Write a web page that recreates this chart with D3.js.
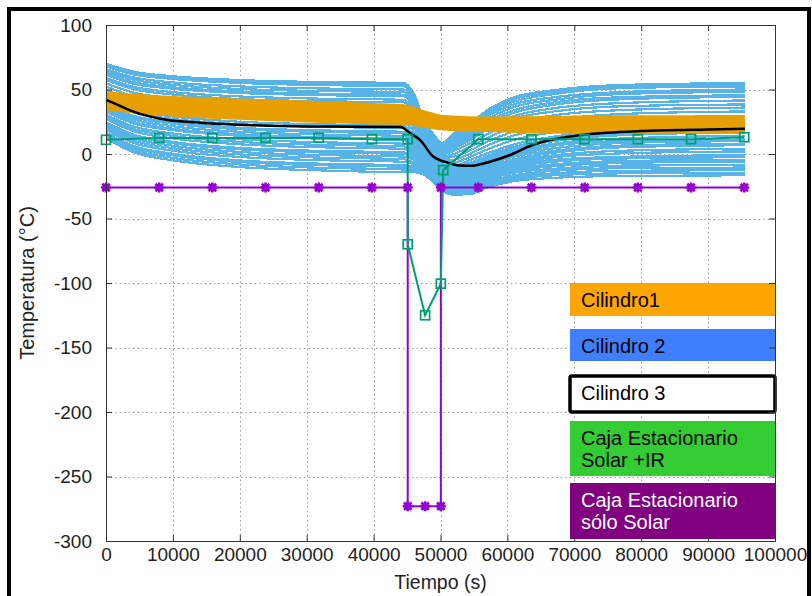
<!DOCTYPE html>
<html>
<head>
<meta charset="utf-8">
<script src="https://cdn.jsdelivr.net/npm/d3@7"></script>
<style>
  html, body { margin: 0; padding: 0; background: #fff; }
  svg { display: block; font-family: "Liberation Sans", Arial, Helvetica, sans-serif; }
</style>
</head>
<body>
<svg id="chart" width="812" height="596"></svg>
<script>
// ---------- axis ticks ----------
const xTicks = [0, 10000, 20000, 30000, 40000, 50000, 60000, 70000, 80000, 90000, 100000];
const yTicks = [-300, -250, -200, -150, -100, -50, 0, 50, 100];

// ---------- Cilindro1 (band of nodes) ----------
const cil1Times = [0, 5000, 10000, 20000, 30000, 40000, 44500, 47500, 50000, 53000, 57000, 65000, 75000, 95500];
const cil1Nodes = [
  [46.6, 44.6, 43.1, 41.1, 39.6, 37.6, 36.6, 32.1, 28.6, 27.6, 27.1, 27.6, 28.1, 28.1],
  [43.9, 41.7, 40.1, 37.9, 36.3, 34.4, 33.6, 29.7, 26.6, 25.6, 25.1, 25.2, 25.4, 25.4],
  [41.3, 38.8, 37.0, 34.8, 33.0, 31.3, 30.5, 27.3, 24.5, 23.5, 23.0, 22.8, 22.8, 22.8],
  [38.6, 35.8, 34.0, 31.6, 29.7, 28.1, 27.5, 24.8, 22.5, 21.5, 21.0, 20.3, 20.1, 20.1],
  [35.9, 32.9, 30.9, 28.4, 26.4, 24.9, 24.4, 22.4, 20.4, 19.4, 18.9, 17.9, 17.4, 17.4]
];

// ---------- Cilindro 2 (family of nodes) ----------
const cil2Times = [0, 4000, 10000, 20000, 32000, 44500,
                   46000, 47500, 49000, 50200, 52000, 54500, 57000, 61000, 67000, 77000, 95500];
const cil2Nodes = [
  [70.0, 64.0, 60.3, 57.3, 55.8, 55.0,  47.0, 27.0, 15.0, 8.5, 16.0, 24.0, 34.0, 44.0, 49.5, 53.5, 55.0],
  [68.7, 62.6, 58.8, 55.8, 54.3, 53.5,  45.5, 26.0, 14.0, 7.5, 15.0, 22.5, 32.5, 42.5, 48.0, 52.0, 53.5],
  [67.9, 61.8, 58.2, 55.1, 53.4, 52.6,  44.0, 25.0, 13.5, 7.0, 14.0, 21.5, 31.0, 40.5, 46.5, 51.0, 52.4],
  [65.8, 59.5, 55.5, 52.4, 50.8, 50.0,  42.0, 23.5, 12.5, 6.0, 12.5, 19.5, 29.0, 38.5, 44.0, 48.0, 50.0],
  [64.1, 57.7, 53.6, 50.4, 48.8, 48.0,  40.0, 22.5, 11.0, 5.0, 10.5, 18.0, 27.0, 36.5, 42.0, 46.5, 48.2],
  [62.4, 55.8, 51.7, 48.5, 46.8, 46.0,  38.0, 21.0, 10.0, 4.0, 9.0, 16.0, 25.0, 34.0, 40.0, 44.0, 45.5],
  [61.4, 54.6, 50.6, 47.3, 45.6, 44.8,  36.0, 19.5, 9.0, 3.0, 7.5, 14.5, 23.0, 32.0, 38.2, 42.4, 44.3],
  [59.0, 52.2, 48.0, 44.6, 42.9, 42.0,  34.0, 18.5, 8.0, 2.0, 6.0, 12.5, 21.0, 29.5, 35.5, 39.5, 41.5],
  [57.4, 50.4, 46.1, 42.6, 40.9, 40.0,  32.0, 17.0, 7.0, 1.0, 4.5, 11.0, 19.0, 27.5, 33.0, 37.0, 38.4],
  [54.8, 47.7, 43.2, 39.7, 37.9, 37.0,  29.5, 15.0, 5.0, -0.5, 2.5, 8.5, 15.5, 24.0, 30.0, 34.0, 36.0],
  [52.3, 45.0, 40.4, 36.7, 34.9, 34.0,  26.5, 13.0, 3.5, -2.0, 0.0, 6.0, 12.5, 21.0, 26.5, 31.0, 33.0],
  [49.8, 42.3, 37.6, 33.8, 31.9, 31.0,  23.5, 11.0, 2.0, -3.5, -2.0, 3.0, 9.5, 17.5, 23.5, 27.5, 29.5],
  [47.3, 39.6, 34.8, 30.9, 29.0, 28.0,  20.5, 9.0, 0.0, -5.0, -4.5, 0.5, 6.5, 14.5, 20.0, 24.5, 26.5],
  [44.8, 36.9, 31.9, 28.0, 26.0, 25.0,  17.5, 7.0, -1.5, -6.5, -6.5, -2.0, 3.5, 11.0, 17.0, 21.5, 23.0],
  [42.2, 34.1, 29.1, 25.0, 23.0, 22.0,  14.5, 5.0, -3.0, -8.0, -9.0, -4.5, 0.5, 7.5, 13.5, 18.0, 20.0],
  [40.6, 32.4, 27.2, 23.1, 21.0, 20.0,  12.5, 3.5, -4.5, -9.5, -10.5, -6.5, -1.5, 5.5, 11.5, 16.0, 18.0],
  [38.4, 29.8, 24.6, 20.3, 18.3, 17.2,  11.0, 2.5, -5.5, -10.5, -11.5, -8.0, -3.0, 4.0, 10.0, 14.6, 16.8],
  [37.2, 28.7, 23.4, 19.2, 17.1, 16.0,  9.5, 1.5, -6.5, -11.5, -13.0, -9.0, -4.0, 2.5, 8.0, 12.0, 14.0],
  [35.5, 26.9, 21.5, 17.2, 15.1, 14.0,  8.0, 0.0, -7.5, -12.5, -14.0, -10.5, -5.5, 1.0, 6.5, 10.0, 11.2],
  [33.8, 25.1, 19.6, 15.3, 13.1, 12.0,  6.5, -1.0, -8.5, -13.5, -15.5, -12.0, -7.0, -0.5, 4.5, 8.5, 10.0],
  [32.7, 23.9, 18.5, 14.1, 11.9, 10.8,  4.5, -2.0, -9.5, -15.0, -16.5, -13.5, -8.5, -2.0, 2.5, 6.5, 8.0],
  [30.5, 21.5, 15.9, 11.4, 9.1, 8.0,  3.0, -3.0, -10.5, -16.0, -18.0, -15.0, -10.0, -4.0, 1.0, 5.2, 6.8],
  [28.8, 19.7, 14.0, 9.4, 7.1, 6.0,  1.5, -4.5, -11.5, -17.0, -19.0, -16.5, -11.5, -5.5, -1.0, 2.5, 4.0],
  [27.1, 17.9, 12.1, 7.5, 5.2, 4.0,  0.0, -5.5, -12.5, -18.0, -20.5, -18.0, -13.0, -7.0, -2.5, 0.5, 2.0],
  [24.8, 15.3, 9.4, 4.7, 2.4, 1.2,  -1.5, -6.5, -13.5, -19.0, -21.5, -19.5, -14.5, -8.5, -4.5, -2.2, -0.9],
  [23.8, 14.3, 8.3, 3.6, 1.2, 0.0,  -3.0, -8.0, -14.5, -20.5, -23.0, -21.0, -16.0, -10.0, -6.0, -3.5, -2.5],
  [22.1, 12.5, 6.4, 1.6, -0.8, -2.0,  -4.5, -9.0, -15.5, -21.5, -24.0, -22.5, -17.5, -11.5, -8.0, -5.5, -4.5],
  [20.4, 10.6, 4.5, -0.3, -2.8, -4.0,  -6.5, -10.0, -17.0, -22.5, -25.5, -23.5, -18.5, -13.0, -9.5, -7.0, -5.8],
  [18.7, 8.8, 2.6, -2.3, -4.8, -6.0,  -8.0, -11.5, -18.0, -23.5, -26.5, -25.0, -20.0, -14.5, -11.5, -9.0, -8.5],
  [16.5, 6.4, 0.2, -5.0, -7.5, -8.8,  -9.5, -12.5, -19.0, -24.5, -28.0, -26.5, -21.5, -16.5, -13.0, -11.0, -10.5],
  [15.4, 5.2, -1.1, -6.2, -8.7, -10.0,  -11.0, -13.5, -20.0, -26.0, -29.0, -28.0, -23.0, -18.0, -15.0, -13.0, -12.5],
  [13.7, 3.4, -3.0, -8.1, -10.7, -12.0,  -12.5, -15.0, -21.0, -27.0, -30.5, -29.5, -24.5, -19.5, -16.5, -15.0, -14.5],
  [12.0, 1.6, -4.9, -10.1, -12.7, -14.0,  -14.0, -16.0, -22.0, -28.0, -31.5, -31.0, -26.0, -21.0, -18.5, -17.0, -16.5]
];

// ---------- Cilindro 3 ----------
const cil3Times = [0, 2000, 4000, 9000, 14000, 22000, 32000, 44000, 45500, 47000, 48900, 50000,
                   51400, 52900, 54400, 55900, 57400, 60400, 63400, 65000, 70000, 75000, 80000, 90000, 95500];
const cil3Temp  = [42, 37.5, 33, 26.5, 24.3, 22.3, 21.3, 21, 16, 10.5, -2, -5,
                   -7.2, -9, -9.2, -8, -6, -0.8, 6.2, 9, 14, 16.5, 17.8, 19, 19.5];

// ---------- Caja Estacionario (Solar +IR / sólo Solar) ----------
const cajaTimes    = [0, 7950, 15900, 23850, 31800, 39750, 45100, 45100, 47700, 50050, 50400,
                      55650, 63600, 71550, 79500, 87450, 95400];
const cajaSolarIR  = [11, 12.5, 12.5, 12.5, 12.5, 11.5, 11.5, -70, -125, -100.5, -12.5,
                      11.5, 11.5, 11.5, 11.5, 11.5, 13];
const cajaTimesS   = [0, 7950, 15900, 23850, 31800, 39750, 45100, 45100, 47700, 50050, 50050,
                      55650, 63600, 71550, 79500, 87450, 95400];
const cajaSolar    = [-26, -26, -26, -26, -26, -26, -26, -273, -273, -273, -26,
                      -26, -26, -26, -26, -26, -26];

// ---------- legend ----------
const legendLabels = [["Cilindro1"], ["Cilindro 2"], ["Cilindro 3"],
                      ["Caja Estacionario", "Solar +IR"], ["Caja Estacionario", "sólo Solar"]];

// ---------- drawing ----------
const svg = d3.select("#chart");
const plot = { left: 106, right: 775, top: 25, bottom: 541 };

const x = d3.scaleLinear().domain([0, 100000]).range([plot.left, plot.right]);
const y = d3.scaleLinear().domain([-300, 100]).range([plot.bottom, plot.top]);

svg.append("rect").attr("width", 812).attr("height", 596).attr("fill", "#fff");

// dotted grid
const grid = svg.append("g").attr("stroke", "#9a9a9a").attr("stroke-width", 1)
  .attr("stroke-dasharray", "1.5,3");
grid.selectAll("line.gx").data(xTicks.slice(1, -1)).join("line")
  .attr("x1", d => Math.round(x(d)) + 0.5).attr("x2", d => Math.round(x(d)) + 0.5)
  .attr("y1", plot.top).attr("y2", plot.bottom);
grid.selectAll("line.gy").data(yTicks.slice(1, -1)).join("line")
  .attr("y1", d => Math.round(y(d)) + 0.5).attr("y2", d => Math.round(y(d)) + 0.5)
  .attr("x1", plot.left).attr("x2", plot.right);

const lineOf = (times) => d3.line()
  .x((d, i) => x(times[i]))
  .y(d => y(d))
  .curve(d3.curveMonotoneX);

// Cilindro 2
svg.append("g").attr("shape-rendering", "crispEdges")
  .selectAll("path").data(cil2Nodes).join("path")
  .attr("d", lineOf(cil2Times))
  .attr("fill", "none").attr("stroke", "#56B4E9").attr("stroke-width", 2.2);

// Cilindro1
svg.append("g").selectAll("path").data(cil1Nodes).join("path")
  .attr("d", lineOf(cil1Times))
  .attr("fill", "none").attr("stroke", "#E69F00").attr("stroke-width", 5);

// Cilindro 3
svg.append("path").datum(cil3Temp)
  .attr("d", lineOf(cil3Times))
  .attr("fill", "none").attr("stroke", "#000").attr("stroke-width", 2.5);

// Caja sólo Solar (line)
const straight = (times) => d3.line().x((d, i) => x(times[i])).y(d => y(d));
svg.append("path").datum(cajaSolar)
  .attr("d", straight(cajaTimesS))
  .attr("fill", "none").attr("stroke", "#9400D3").attr("stroke-width", 2);

// Caja Solar +IR (line + square points)
svg.append("path").datum(cajaSolarIR)
  .attr("d", straight(cajaTimes))
  .attr("fill", "none").attr("stroke", "#009E73").attr("stroke-width", 2);
svg.append("g").selectAll("rect").data(cajaSolarIR).join("rect")
  .attr("x", (d, i) => x(cajaTimes[i]) - 4.5).attr("y", d => y(d) - 4.5)
  .attr("width", 9).attr("height", 9)
  .attr("fill", "none").attr("stroke", "#009E73").attr("stroke-width", 1.7);

// Caja sólo Solar points (asterisks)
const star = svg.append("g").attr("stroke", "#9400D3").attr("stroke-width", 2.6);
cajaSolar.forEach((d, i) => {
  const cx = x(cajaTimesS[i]), cy = y(d), r = 5;
  star.append("path").attr("d",
    `M${cx - r},${cy}L${cx + r},${cy}M${cx},${cy - r}L${cx},${cy + r}` +
    `M${cx - r * 0.75},${cy - r * 0.75}L${cx + r * 0.75},${cy + r * 0.75}` +
    `M${cx - r * 0.75},${cy + r * 0.75}L${cx + r * 0.75},${cy - r * 0.75}`);
});

// legend
const legendBoxes = svg.append("g");
const lx = 570, lw = 205;
const boxStyles = [
  { y: 283, h: 33, fill: "#FFA500", text: "#000", stroke: null },
  { y: 329, h: 32, fill: "#3F7FFF", text: "#000", stroke: null },
  { y: 376, h: 36, fill: "#fff",    text: "#000", stroke: "#000" },
  { y: 421, h: 55, fill: "#33CC33", text: "#000", stroke: null },
  { y: 483, h: 56, fill: "#800080", text: "#fff", stroke: null }
];
const baselines = [[306.5], [352.5], [399.5], [445, 467], [507, 529]];
legendLabels.forEach((lines, i) => {
  const s = boxStyles[i];
  legendBoxes.append("rect")
    .attr("x", lx).attr("y", s.y).attr("width", lw).attr("height", s.h)
    .attr("rx", s.stroke ? 2 : 0)
    .attr("fill", s.fill)
    .attr("stroke", s.stroke || "none").attr("stroke-width", s.stroke ? 3.5 : 0);
  lines.forEach((t, j) => {
    legendBoxes.append("text")
      .attr("x", 581).attr("y", baselines[i][j])
      .attr("font-size", 20).attr("fill", s.text)
      .text(t);
  });
});

// plot border
svg.append("rect")
  .attr("x", plot.left + 0.5).attr("y", plot.top + 0.5)
  .attr("width", plot.right - plot.left).attr("height", plot.bottom - plot.top)
  .attr("fill", "none").attr("stroke", "#333").attr("stroke-width", 1);

// axes (ticks inward, mirrored on top and right)
const plainNumber = d => String(d);
const styleAxis = g => {
  g.select(".domain").remove();
  g.selectAll(".tick line").attr("stroke", "#333");
  g.selectAll(".tick text").attr("font-size", 19).attr("fill", "#222")
    .attr("font-family", '"Liberation Sans", Arial, sans-serif');
};
svg.append("g").attr("transform", `translate(0,${plot.bottom})`)
  .call(d3.axisBottom(x).tickValues(xTicks).tickFormat(plainNumber)
    .tickSizeInner(-6).tickSizeOuter(0).tickPadding(6.5))
  .call(styleAxis);
svg.append("g").attr("transform", `translate(${plot.left},0)`)
  .call(d3.axisLeft(y).tickValues(yTicks).tickFormat(plainNumber)
    .tickSizeInner(-6).tickSizeOuter(0).tickPadding(14))
  .call(styleAxis);
svg.append("g").attr("transform", `translate(0,${plot.top})`)
  .call(d3.axisTop(x).tickValues(xTicks).tickFormat("").tickSizeInner(-6).tickSizeOuter(0))
  .call(styleAxis);
svg.append("g").attr("transform", `translate(${plot.right},0)`)
  .call(d3.axisRight(y).tickValues(yTicks).tickFormat("").tickSizeInner(-6).tickSizeOuter(0))
  .call(styleAxis);

// axis titles
svg.append("text")
  .attr("x", (plot.left + plot.right) / 2).attr("y", 589)
  .attr("text-anchor", "middle").attr("font-size", 19.5).attr("fill", "#222")
  .text("Tiempo (s)");
svg.append("text")
  .attr("transform", `translate(34,${(plot.top + plot.bottom) / 2}) rotate(-90)`)
  .attr("text-anchor", "middle").attr("font-size", 20).attr("fill", "#222")
  .text("Temperatura (°C)");

// outer frame
svg.append("rect")
  .attr("x", 9).attr("y", 9).attr("width", 800).attr("height", 620)
  .attr("fill", "none").attr("stroke", "#000").attr("stroke-width", 4);
</script>
</body>
</html>
